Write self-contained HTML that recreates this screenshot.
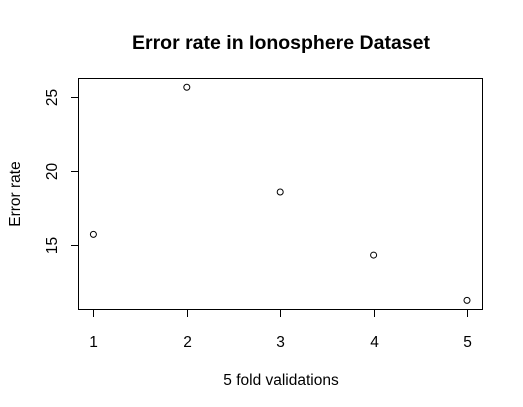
<!DOCTYPE html>
<html><head><meta charset="utf-8"><style>body{margin:0;background:#fff}svg{display:block}text{font-family:"Liberation Sans",Arial,sans-serif;fill:#000}</style></head>
<body>
<svg id="chart" width="523" height="407" xmlns="http://www.w3.org/2000/svg">
<rect width="523" height="407" fill="#fff"/>
<text x="281" y="49" text-anchor="middle" font-size="19.5" font-weight="bold">Error rate in Ionosphere Dataset</text>
<rect x="78.5" y="78.5" width="404" height="231" fill="none" stroke="#000" stroke-width="1"/>
<text x="281" y="385" text-anchor="middle" font-size="15.5">5 fold validations</text>
<text transform="translate(20,194) rotate(-90)" text-anchor="middle" font-size="15.5">Error rate</text>
<g id="axes"></g>
<g id="points"></g>
</svg>
<script>
const folds = [1, 2, 3, 4, 5];
const errorRates = [15.74, 25.68, 18.6, 14.34, 11.28];
const xTicks = [1, 2, 3, 4, 5];
const yTicks = [15, 20, 25];
const NS = "http://www.w3.org/2000/svg";
function xs(v){ return 93.4 + (v - 1) * 93.4; }
function ys(v){ return 245.3 - (v - 15) * 14.8; }
const axes = document.getElementById('axes');
const pts = document.getElementById('points');
function mk(tag, attrs){ const e = document.createElementNS(NS, tag); for (const k in attrs) e.setAttribute(k, attrs[k]); return e; }
xTicks.forEach(t => {
  const x = Math.round(xs(t)) + 0.5;
  const l = mk('line', {x1:x, x2:x, y1:309.5, y2:317, stroke:'#000'});
  
  
  axes.appendChild(l);
  const tx = mk('text', {x:x, y:347, 'text-anchor':'middle', 'font-size':'15.5'});
  
  
  tx.textContent = t;
  axes.appendChild(tx);
});
yTicks.forEach(t => {
  const y = Math.round(ys(t)) + 0.5;
  const l = mk('line', {x1:71, x2:78.5, y1:y, y2:y, stroke:'#000'});
  
  
  axes.appendChild(l);
  const tx = mk('text', {transform:'translate(57,' + y + ') rotate(-90)', 'text-anchor':'middle', 'font-size':'15.5'});
  
  
  tx.textContent = t;
  axes.appendChild(tx);
});
folds.forEach((f, i) => {
  const c = mk('circle', {cx:xs(f), cy:ys(errorRates[i]), r:3, fill:'none', stroke:'#000', 'stroke-width':1});
  
  
  pts.appendChild(c);
});
</script>
</body></html>
